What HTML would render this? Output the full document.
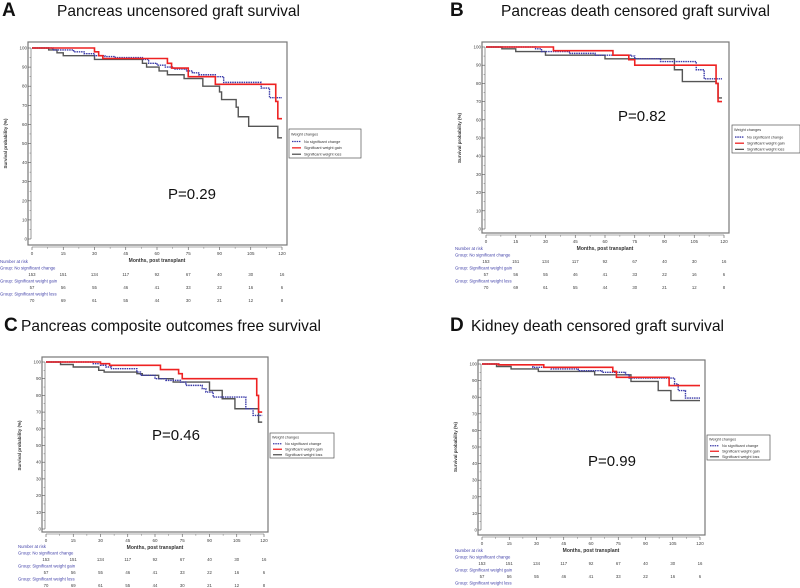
<!DOCTYPE html>
<html><head><meta charset="utf-8"><style>
html,body{margin:0;padding:0;background:#fff;}
svg{display:block;font-family:"Liberation Sans",sans-serif;}
</style></head><body>
<svg id="fig" width="800" height="588" viewBox="0 0 800 588" xmlns="http://www.w3.org/2000/svg"></svg>
<script>
// ---- data ----
const xTicks = [0,15,30,45,60,75,90,105,120];
const yTicks = [0,10,20,30,40,50,60,70,80,90,100];
const riskNoChange = [153,151,134,117,92,67,40,30,16];
const riskGain = [57,56,55,46,41,33,22,16,6];
const riskLoss = [70,69,61,55,44,30,21,12,8];
const groupNames = ["No significant change","Significant weight gain","Significant weight loss"];
const panelTitles = ["Pancreas uncensored graft survival","Pancreas death censored graft survival","Pancreas composite outcomes free survival","Kidney death censored graft survival"];
const panelLetters = ["A","B","C","D"];
const pValues = ["P=0.29","P=0.82","P=0.46","P=0.99"];
// survival steps: [time, survival%] , last entry = end of follow-up
const aBlue = [[0,100],[10,99],[20,98],[25,97],[30,96],[35,95.5],[40,95],[53,94],[56,92],[60,91],[64,90],[68,89],[74,88],[77,87],[80,86],[88,85],[92,82],[110,79],[114,74],[120,74]];
const aRed = [[0,100],[30,98],[32,96],[34,94.5],[65,92],[67,89.5],[75,85],[88,81],[117,72],[118,63],[120,63]];
const aGray = [[0,100],[8,99],[12,97.5],[15,96],[30,94],[53,92],[55,90],[61,88],[65,86],[73,84],[82,80],[90,77],[91,73],[98,69],[99,64],[104,59],[118,53],[120,53]];
const bBlue = [[0,100],[25,99],[28,97.5],[42,96.5],[55,95.5],[73,95],[75,93.5],[88,92],[106,87.5],[110,82.5],[119,82.5]];
const bRed = [[0,100],[34,98],[64,95.5],[72,93],[75,90],[116,80],[117,70],[119,70]];
const bGray = [[0,100],[8,99],[15,97.5],[30,95.5],[60,93.5],[95,87.5],[99,81],[116,80],[117,72],[119,72]];
const cBlue = [[0,100],[26,99],[30,98],[33,97],[36,96],[50,94],[52,92],[60,90],[66,89],[74,88],[77,86],[86,84],[88,82],[92,79],[110,72],[114,68],[119,68]];
const cRed = [[0,100],[30,99],[35,98],[63,95.5],[73,93],[75,90],[116,80],[117,70],[119,70]];
const cGray = [[0,100],[8,98.5],[15,97],[29,95],[32,94],[50,93],[53,92],[62,90],[70,88],[90,83],[97,78],[104,72],[117,64],[119,64]];
const dBlue = [[0,100],[10,99.5],[28,98],[38,97],[53,96],[66,95],[79,93.5],[81,91.5],[106,88],[108,84],[112,79.5],[120,79.5]];
const dRed = [[0,100],[9,99.5],[34,98],[72,95.5],[74,92],[103,87],[120,87]];
const dGray = [[0,100],[8,98.5],[16,97],[31,95.5],[62,93.5],[82,89.5],[97,84],[104,78],[120,78]];
const panelSeries = [[aBlue,aRed,aGray],[bBlue,bRed,bGray],[cBlue,cRed,cGray],[dBlue,dRed,dGray]];

// ---- layout ----
const layouts = [
 {box:[28,42,287,245],x0:32,x1:282,y100:48,y0:239,leg:[289,129,361,158],lx:0,riskY:263,letter:[2,16],title:[57,16,243],p:[192,199]},
 {box:[482,42,729,233],x0:486,x1:724,y100:47,y0:229,leg:[732,125,800,153],lx:455,riskY:250,letter:[450,16],title:[501,16,269],p:[642,121]},
 {box:[42,357,268,532],x0:46,x1:264,y100:362,y0:529,leg:[270,433,334,458],lx:18,riskY:548,letter:[4,331],title:[21,331,300],p:[176,440]},
 {box:[478,360,705,535],x0:482,x1:700,y100:364,y0:530,leg:[707,435,770,460],lx:455,riskY:552,letter:[450,331],title:[471,331,253],p:[612,466]}
];
const colors = ["#3a3aa8","#ee2222","#555555"];
const NS="http://www.w3.org/2000/svg";
const svg=document.getElementById('fig');
function mk(tag,attrs,parent,text){const e=document.createElementNS(NS,tag);for(const k in attrs)e.setAttribute(k,attrs[k]);if(text!==undefined)e.textContent=text;(parent||svg).appendChild(e);return e;}

layouts.forEach((L,pi)=>{
  const g=mk('g',{});
  
  
  const sx=t=>L.x0+(L.x1-L.x0)*t/120;
  const sy=v=>L.y0+(L.y100-L.y0)*v/100;
  const lt=mk('text',{x:L.letter[0],y:L.letter[1],'font-size':19,'font-weight':'bold',fill:'#111'},g,panelLetters[pi]);
  
  
  const tt=mk('text',{x:L.title[0],y:L.title[1],'font-size':16,fill:'#111',textLength:L.title[2],lengthAdjust:'spacingAndGlyphs'},g,panelTitles[pi]);
  
  
  const b=L.box;
  const fr=mk('rect',{x:b[0],y:b[1],width:b[2]-b[0],height:b[3]-b[1],fill:'none',stroke:'#777','stroke-width':1.2},g);
  
  
  // y axis ticks
  yTicks.forEach(v=>{
    mk('line',{x1:L.x0-4,x2:L.x0-1,y1:sy(v),y2:sy(v),stroke:'#555','stroke-width':0.6},g);
    const t=mk('text',{x:L.x0-5,y:sy(v)+1.5,'font-size':4.5,'text-anchor':'end',fill:'#444'},g,String(v));
    
    
    if(v<100) mk('line',{x1:L.x0-2.5,x2:L.x0-1,y1:sy(v+5),y2:sy(v+5),stroke:'#777','stroke-width':0.5},g);
  });
  mk('line',{x1:L.x0-1,x2:L.x0-1,y1:sy(0),y2:sy(100),stroke:'#555','stroke-width':0.6},g);
  const yl=mk('text',{x:0,y:0,'font-size':4.5,'font-weight':'bold','text-anchor':'middle',fill:'#333',transform:`translate(${b[0]-21},${(sy(0)+sy(100))/2}) rotate(-90)`},g,'Survival probability (%)');
  
  
  // x axis
  const xa=b[3]+2;
  mk('line',{x1:sx(0),x2:sx(120),y1:xa,y2:xa,stroke:'#555','stroke-width':0.6},g);
  xTicks.forEach((t,i)=>{
    mk('line',{x1:sx(t),x2:sx(t),y1:xa,y2:xa+3,stroke:'#555','stroke-width':0.6},g);
    if(t<120) mk('line',{x1:sx(t+7.5),x2:sx(t+7.5),y1:xa,y2:xa+1.8,stroke:'#777','stroke-width':0.5},g);
    const tl=mk('text',{x:sx(t),y:xa+8,'font-size':4.5,'text-anchor':'middle',fill:'#444'},g,String(t));
    
    
  });
  const xl=mk('text',{x:(sx(0)+sx(120))/2,y:xa+15,'font-size':5,'font-weight':'bold','text-anchor':'middle',fill:'#333'},g,'Months, post transplant');
  
  
  // curves
  const order=[2,0,1];
  order.forEach(si=>{
    const s=panelSeries[pi][si];
    let d='M'+sx(s[0][0])+','+sy(s[0][1]);
    for(let k=1;k<s.length;k++){d+=' H'+sx(s[k][0])+' V'+sy(s[k][1]);}
    const p=mk('path',{d:d,fill:'none',stroke:colors[si],'stroke-width':si===1?1.6:1.4,'stroke-dasharray':si===0?'1.5,0.8':'none'},g);
    
    
  });
  // p-value
  const pv=mk('text',{x:L.p[0],y:L.p[1],'font-size':15,'text-anchor':'middle',fill:'#111'},g,pValues[pi]);
  
  
  // legend
  const lg=L.leg;
  const lb=mk('rect',{x:lg[0],y:lg[1],width:lg[2]-lg[0],height:lg[3]-lg[1],fill:'#fff',stroke:'#555','stroke-width':0.7},g);
  
  
  const lh=(lg[3]-lg[1]);
  mk('text',{x:lg[0]+2,y:lg[1]+lh*0.22,'font-size':3.8,fill:'#333'},g,'Weight changes');
  groupNames.forEach((n,i)=>{
    const yy=lg[1]+lh*(0.43+i*0.22);
    mk('line',{x1:lg[0]+3,x2:lg[0]+12,y1:yy,y2:yy,stroke:colors[i],'stroke-width':1.3,'stroke-dasharray':i===0?'1.5,0.8':'none'},g);
    const le=mk('text',{x:lg[0]+15,y:yy+1.3,'font-size':3.8,fill:'#333'},g,n);
    
    
  });
  // risk table
  const ry=L.riskY;
  mk('text',{x:L.lx,y:ry,'font-size':4.3,fill:'#4444aa'},g,'Number at risk');
  [riskNoChange,riskGain,riskLoss].forEach((arr,gi)=>{
    const yy=ry+6.5+gi*13;
    mk('text',{x:L.lx,y:yy,'font-size':4.3,fill:'#4444aa'},g,'Group: '+groupNames[gi]);
    arr.forEach((v,k)=>{
      const rt=mk('text',{x:sx(xTicks[k]),y:yy+6.5,'font-size':4.3,'text-anchor':'middle',fill:'#444'},g,String(v));
      
      
    });
  });
});
</script>
</body></html>
